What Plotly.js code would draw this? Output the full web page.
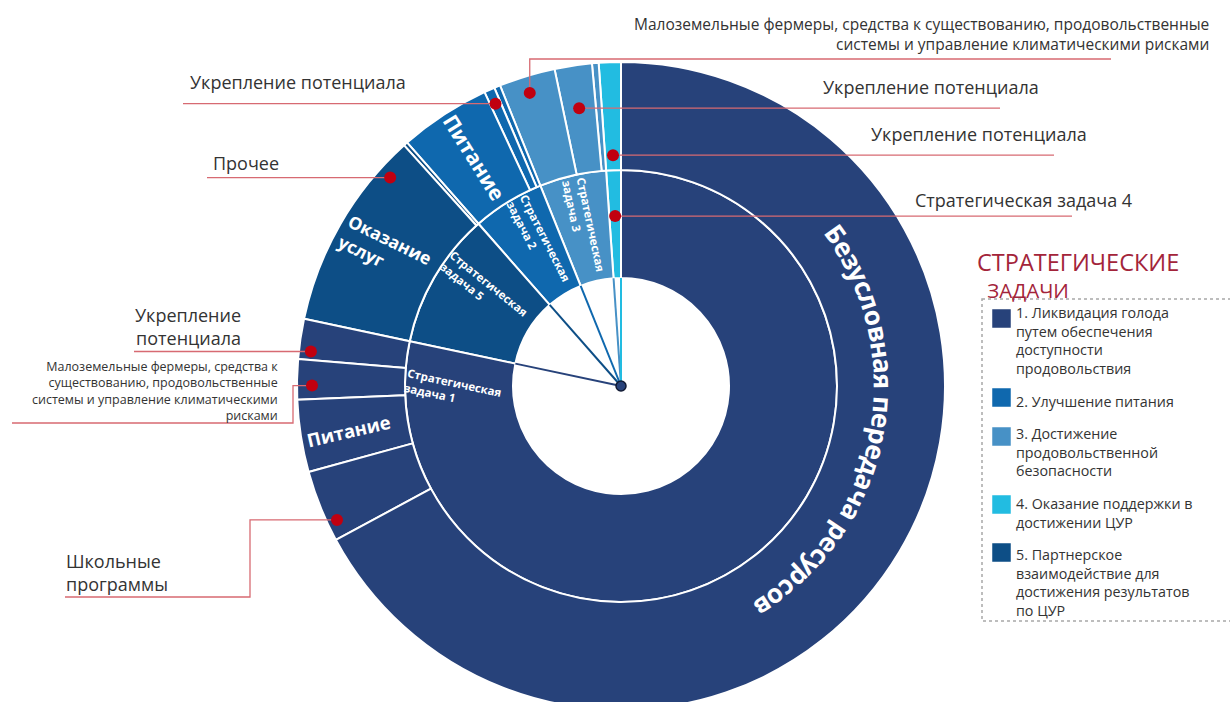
<!DOCTYPE html>
<html><head><meta charset="utf-8">
<script src="https://cdn.plot.ly/plotly-3.0.1.min.js"></script>
<style>html,body{margin:0;padding:0;overflow:hidden;background:#fff}#chart{width:1230px;height:720px}</style>
</head><body><div id="chart"></div>
<script>
// ---------------- DATA ----------------
// Strategic tasks (legend order)
const taskIds = ['ST1','ST2','ST3','ST4','ST5'];
const taskRingText = ['Стратегическая<br>задача 1','Стратегическая<br>задача 2','Стратегическая<br>задача 3','Стратегическая задача 4','Стратегическая<br>задача 5'];
const taskLegend = [
  ['1. Ликвидация голода','путем обеспечения','доступности','продовольствия'],
  ['2. Улучшение питания'],
  ['3. Достижение','продовольственной','безопасности'],
  ['4. Оказание поддержки в','достижении ЦУР'],
  ['5. Партнерское','взаимодействие для','достижения результатов','по ЦУР']
];
const taskColors = ['#27427a','#0f68ae','#4791c6','#22bce1','#0d4e86'];
// clockwise order of the inner ring, starting at 12 o'clock
const ringOrder = ['ST1','ST5','ST2','ST3','ST4'];

// Activities (outer ring), clockwise within each task
const actIds     = ['A1','A2','A3','A4','A5','E1','E2','B1','B2','B3','C1','C2','C3','D1'];
const actParents = ['ST1','ST1','ST1','ST1','ST1','ST5','ST5','ST2','ST2','ST2','ST3','ST3','ST3','ST4'];
const actLabels  = ['Безусловная передача ресурсов','Школьные программы','Питание',
  'Малоземельные фермеры, средства к существованию, продовольственные системы и управление климатическими рисками',
  'Укрепление потенциала','Оказание услуг','Прочее','Питание','Укрепление потенциала','Прочее',
  'Малоземельные фермеры, средства к существованию, продовольственные системы и управление климатическими рисками',
  'Укрепление потенциала','Прочее','Укрепление потенциала'];
const actValues  = [67.1, 3.6, 3.6, 2.0, 2.0, 10.0, 0.2, 4.55, 0.53, 0.3, 2.8, 1.86, 0.33, 1.1];

// ---------------- GEOMETRY / STYLE ----------------
const W = 1230, H = 720;
const CX = 621, CY = 386, R = 324, RW = R/3;
const CW = false;           // plotly sunburst runs counter-clockwise
const FONT = 'Open Sans, sans-serif';
const TXT = '#333333';
const LEAD = '#d76a72';
const DOT = '#c00010';

const colorOf = id => taskColors[taskIds.indexOf(id)];

// angles (clockwise from 12 o'clock) computed from data
const total = actValues.reduce((a,b)=>a+b,0);
const ang = {};
let cum = 0;
ringOrder.forEach(t => {
  const s = cum;
  actIds.forEach((id,i) => {
    if (actParents[i] === t) { ang[id] = [cum/total*360, (cum+actValues[i])/total*360]; cum += actValues[i]; }
  });
  ang[t] = [s/total*360, cum/total*360];
});
const P = (th, r) => { const t = th*Math.PI/180; return [CX + r*Math.sin(t), CY - r*Math.cos(t)]; };
const px = x => x/W, py = y => 1 - y/H;

// ---------------- SUNBURST ----------------
let tOrder = ringOrder.slice(), aOrder = actIds.map((_,i)=>i);
if (!CW) { tOrder.reverse(); aOrder.reverse(); }
const ids = ['root'], parents = [''], labels = [''], values = [0], colors = ['#ffffff'];
tOrder.forEach(t => { ids.push(t); parents.push('root'); labels.push(taskRingText[taskIds.indexOf(t)]); values.push(0); colors.push(colorOf(t)); });
aOrder.forEach(i => { ids.push(actIds[i]); parents.push(actParents[i]); labels.push(actLabels[i]); values.push(actValues[i]); colors.push(colorOf(actParents[i])); });

const trace = {
  type: 'sunburst', ids, parents, labels, values, branchvalues: 'remainder',
  sort: false, rotation: 90, textinfo: 'none', hoverinfo: 'label',
  leaf: {opacity: 1},
  marker: {colors, line: {color: '#ffffff', width: 2}},
  domain: {x: [(CX-R)/W, (CX+R)/W], y: [(H-CY-R)/H, (H-CY+R)/H]}
};

const shapes = [], annotations = [];

// spokes from center to the inner ring
ringOrder.forEach(t => {
  const [x1,y1] = P(ang[t][1], RW);
  shapes.push({type:'line', xref:'paper', yref:'paper', x0:px(CX), y0:py(CY), x1:px(x1), y1:py(y1), line:{color:colorOf(t), width:2}});
});
shapes.push({type:'circle', xref:'paper', yref:'paper', x0:px(CX-5), x1:px(CX+5), y0:py(CY+5), y1:py(CY-5), fillcolor:'#27427a', line:{color:'#111a33', width:1.5}});

// in-slice labels (slice-relative angular fraction, radius px)
const inLabels = [
  {id:'ST1', text:'Стратегическая<br>задача 1', f:0.953, r:168, rot:12, size:11.5, align:'left'},
  {id:'ST5', text:'Стратегическая<br>задача 5', f:0.63, r:168, rot:39, size:11.5, align:'left'},
  {id:'ST2', text:'Стратегическая<br>задача 2', f:0.61, r:166, rot:63, size:11.5, align:'left'},
  {id:'ST3', text:'Стратегическая<br>задача 3', f:0.48, r:164, rot:78, size:11.5, align:'left'},
  {id:'E1', text:'Оказание<br>услуг', f:0.5, r:273, rot:26, size:17.5, align:'left'},
  {id:'B1', text:'Питание', f:0.53, r:271, rot:58, size:21, align:'center'},
  {id:'A3', text:'Питание', f:0.47, r:276, rot:-13, size:18.5, align:'center'}
];
inLabels.forEach(L => {
  const [a0,a1] = ang[L.id]; const [x,y] = P(a0 + L.f*(a1-a0), L.r);
  annotations.push({xref:'paper', yref:'paper', x:px(x), y:py(y), xanchor:'center', yanchor:'middle', showarrow:false,
    text:L.text, textangle:L.rot, align:L.align, font:{family:FONT, size:L.size, color:'#ffffff', weight:'bold'}});
});

// curved label of the largest slice
(function(){
  const txt = actLabels[0];
  const ctx = document.createElement('canvas').getContext('2d');
  ctx.font = 'bold 100px "Open Sans"';
  const widths = [...txt].map(c => ctx.measureText(c).width/100);
  const wsum = widths.reduce((a,b)=>a+b,0);
  const rr = 263, spanDeg = 96, cDeg = 101;
  const fs = (spanDeg*Math.PI/180*rr)/wsum;
  let s = 0; const th0 = cDeg - spanDeg/2;
  [...txt].forEach((c,i) => {
    const w = widths[i]*fs; const th = th0 + (s + w/2)/rr*180/Math.PI; s += w;
    if (c === ' ') return;
    const [x,y] = P(th, rr);
    annotations.push({xref:'paper', yref:'paper', x:px(x), y:py(y), xanchor:'center', yanchor:'middle', showarrow:false,
      text:c, textangle:th, font:{family:FONT, size:fs, color:'#ffffff', weight:'bold'}});
  });
})();

// callouts: dot inside a slice, leader path and label
const callouts = [
  {id:'C1', f:0.46, r:307, path:[['v',59],['h',1111]], text:'Малоземельные фермеры, средства к существованию, продовольственные<br>системы и управление климатическими рисками', x:1211, y:34, anchor:'right', align:'right', size:15.5},
  {id:'C2', f:0.49, r:281, path:[['h',1000]], text:'Укрепление потенциала', x:931, y:87, anchor:'center', align:'center', size:18},
  {id:'D1', f:0.5, r:231, path:[['h',1054]], text:'Укрепление потенциала', x:979, y:134, anchor:'center', align:'center', size:18},
  {id:'ST4', f:0.5, r:170, path:[['h',1072]], text:'Стратегическая задача 4', x:1023, y:200, anchor:'center', align:'center', size:18},
  {id:'B2', f:0.5, r:309, path:[['h',183]], text:'Укрепление потенциала', x:298, y:82, anchor:'center', align:'center', size:18},
  {id:'ST5', f:0.82, r:311, path:[['h',207]], text:'Прочее', x:246, y:163, anchor:'center', align:'center', size:18},
  {id:'A5', f:0.22, r:312, path:[['h',134]], text:'Укрепление<br>потенциала', x:243, y:327, anchor:'right', align:'right', size:18},
  {id:'A4', f:0.35, r:309, path:[['h',293],['v',423],['h',12]], text:'Малоземельные фермеры, средства к<br>существованию, продовольственные<br>системы и управление климатическими<br>рисками', x:280, y:391, anchor:'right', align:'right', size:12.5},
  {id:'A2', f:0.24, r:314, path:[['h',250],['v',597],['h',65]], text:'Школьные<br>программы', x:64, y:572, anchor:'left', align:'left', size:18}
];
callouts.forEach(c => {
  const [a0,a1] = ang[c.id]; let [x,y] = P(a0 + c.f*(a1-a0), c.r);
  let d = `M${px(x)},${py(y)}`;
  c.path.forEach(([k,v]) => { if (k==='h') x = v; else y = v; d += ` L${px(x)},${py(y)}`; });
  shapes.push({type:'path', xref:'paper', yref:'paper', path:d, line:{color:LEAD, width:1.3}});
  annotations.push({xref:'paper', yref:'paper', x:px(c.x), y:py(c.y), xanchor:c.anchor, yanchor:'middle',
    showarrow:false, text:c.text, align:c.align, font:{family:FONT, size:c.size, color:TXT}});
});
callouts.forEach(c => {
  const [a0,a1] = ang[c.id]; const [x,y] = P(a0 + c.f*(a1-a0), c.r);
  shapes.push({type:'circle', xref:'paper', yref:'paper', x0:px(x-6), x1:px(x+6), y0:py(y+6), y1:py(y-6), fillcolor:DOT, line:{width:0}});
});

// legend
annotations.push({xref:'paper', yref:'paper', x:px(975), y:py(275), xanchor:'left', yanchor:'middle', showarrow:false,
  text:'<span style="font-size:23.5px">СТРАТЕГИЧЕСКИЕ</span><br>\u2002ЗАДАЧИ', align:'left',
  font:{family:'Liberation Sans Narrow, Open Sans, sans-serif', size:20.5, color:'#a3243a'}});
shapes.push({type:'rect', xref:'paper', yref:'paper', x0:px(982), x1:px(1240), y0:py(299), y1:py(621), line:{color:'#a8a8a8', width:1.5, dash:'dot'}});
const legSq = [309, 388, 427, 495, 543];
const legText = [312.7, 401, 433, 503.3, 555];
taskIds.forEach((t,i) => {
  shapes.push({type:'rect', xref:'paper', yref:'paper', x0:px(992), x1:px(1011), y0:py(legSq[i]+19), y1:py(legSq[i]), fillcolor:taskColors[i], line:{color:'#ffffff', width:0.5}});
  const n = taskLegend[i].length;
  annotations.push({xref:'paper', yref:'paper', x:px(1014), y:py(legText[i] + (n-1)*9.3), xanchor:'left', yanchor:'middle',
    showarrow:false, text:taskLegend[i].join('<br>'), align:'left', font:{family:FONT, size:14.3, color:TXT}});
});

Plotly.newPlot('chart', [trace], {
  width: W, height: H, margin: {l:0, r:0, t:0, b:0},
  paper_bgcolor: '#ffffff', showlegend: false, shapes, annotations
}, {displayModeBar: false, staticPlot: true});
</script></body></html>
